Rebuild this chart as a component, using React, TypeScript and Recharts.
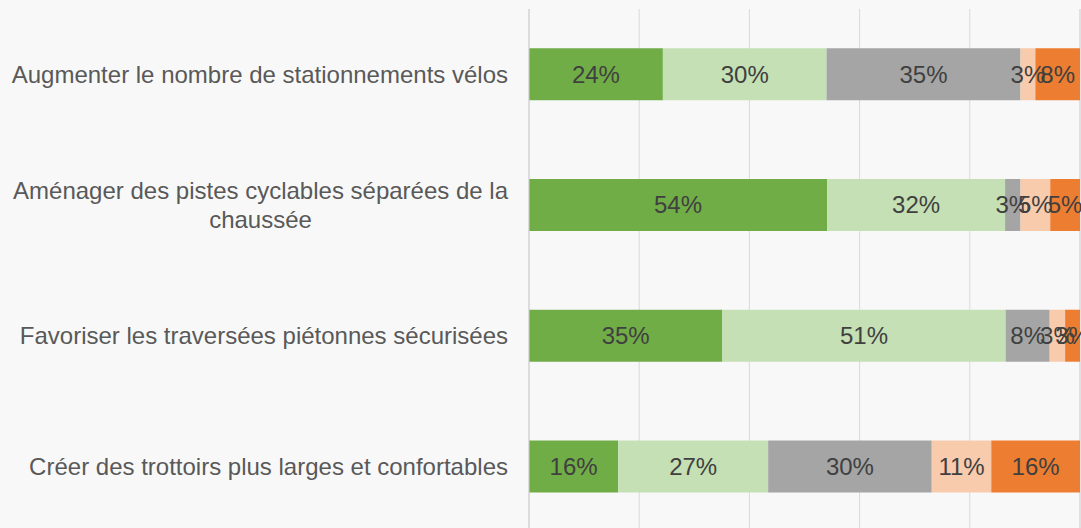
import type { JSX } from 'react';
import { Bar, BarChart, CartesianGrid, LabelList, XAxis, YAxis } from 'recharts';

// category labels, with manual line breaks as in the source chart
const categories = [
  ['Augmenter le nombre de stationnements vélos'],
  ['Aménager des pistes cyclables séparées de la', 'chaussée'],
  ['Favoriser les traversées piétonnes sécurisées'],
  ['Créer des trottoirs plus larges et confortables'],
];

// share of answers per level (percent)
const tresImportant = [24.3, 54.1, 35.1, 16.2];
const important = [29.7, 32.3, 51.4, 27.2];
const moyennement = [35.2, 2.8, 8.0, 29.7];
const peuImportant = [2.7, 5.4, 2.8, 10.8];
const pasImportant = [8.1, 5.4, 2.7, 16.1];

const xTicks = [0, 20, 40, 60, 80, 100];

const series = [
  { key: 'tresImportant', name: 'Très important', color: '#70AD47' },
  { key: 'important', name: 'Important', color: '#C5E0B4' },
  { key: 'moyennement', name: 'Moyennement important', color: '#A5A5A5' },
  { key: 'peuImportant', name: 'Peu important', color: '#F8CBAD' },
  { key: 'pasImportant', name: 'Pas important', color: '#ED7D31' },
];

const data = categories.map((lines, i) => ({
  label: lines.join('\n'),
  tresImportant: tresImportant[i],
  important: important[i],
  moyennement: moyennement[i],
  peuImportant: peuImportant[i],
  pasImportant: pasImportant[i],
}));

const FONT = '"Liberation Sans", Arial, sans-serif';
const FONT_SIZE = 24;
const LINE_HEIGHT = 28.5;

let measureCtx: CanvasRenderingContext2D | null = null;
const measure = (text: string): number => {
  if (!measureCtx) {
    measureCtx = document.createElement('canvas').getContext('2d');
  }
  if (!measureCtx) return text.length * FONT_SIZE * 0.5;
  measureCtx.font = `${FONT_SIZE}px ${FONT}`;
  return measureCtx.measureText(text).width;
};

// wrapped labels are centred on their widest line, like Excel does
const CategoryTick = (props: any): JSX.Element => {
  const { x, y, payload } = props;
  const lines = String(payload.value).split('\n');
  const right = x - 21;
  const widest = Math.max(...lines.map(measure));
  const cx = right - widest / 2;
  const startY = y - ((lines.length - 1) * LINE_HEIGHT) / 2;
  return (
    <g>
      {lines.map((line, i) => (
        <text
          key={i}
          x={cx}
          y={startY + i * LINE_HEIGHT}
          textAnchor="middle"
          dominantBaseline="central"
          fill="#595959"
          fontSize={FONT_SIZE}
          fontFamily={FONT}
        >
          {line}
        </text>
      ))}
    </g>
  );
};

const pct = (value: any): string => `${Math.round(Number(value))}%`;

export default function App(): JSX.Element {
  return (
    <div
      style={{
        position: 'absolute',
        left: 0,
        top: 0,
        width: 1081,
        height: 528,
        overflow: 'hidden',
        background: '#f8f8f8',
      }}
    >
      <BarChart
        width={1081}
        height={541}
        data={data}
        layout="vertical"
        margin={{ top: 9, right: 1, bottom: 9, left: 0 }}
        barCategoryGap="30%"
      >
        <CartesianGrid horizontal={false} stroke="#d9d9d9" />
        <XAxis type="number" domain={[0, 100]} ticks={xTicks} hide />
        <YAxis
          type="category"
          dataKey="label"
          width={529}
          axisLine={{ stroke: '#d0d0d0' }}
          tickLine={false}
          tickSize={0}
          tickMargin={0}
          tick={<CategoryTick />}
          interval={0}
        />
        {series.map((s) => (
          <Bar key={s.key} dataKey={s.key} name={s.name} stackId="a" fill={s.color} isAnimationActive={false}>
            <LabelList
              dataKey={s.key}
              position="center"
              formatter={pct}
              fill="#404040"
              fontSize={FONT_SIZE}
              fontFamily={FONT}
            />
          </Bar>
        ))}
      </BarChart>
    </div>
  );
}
